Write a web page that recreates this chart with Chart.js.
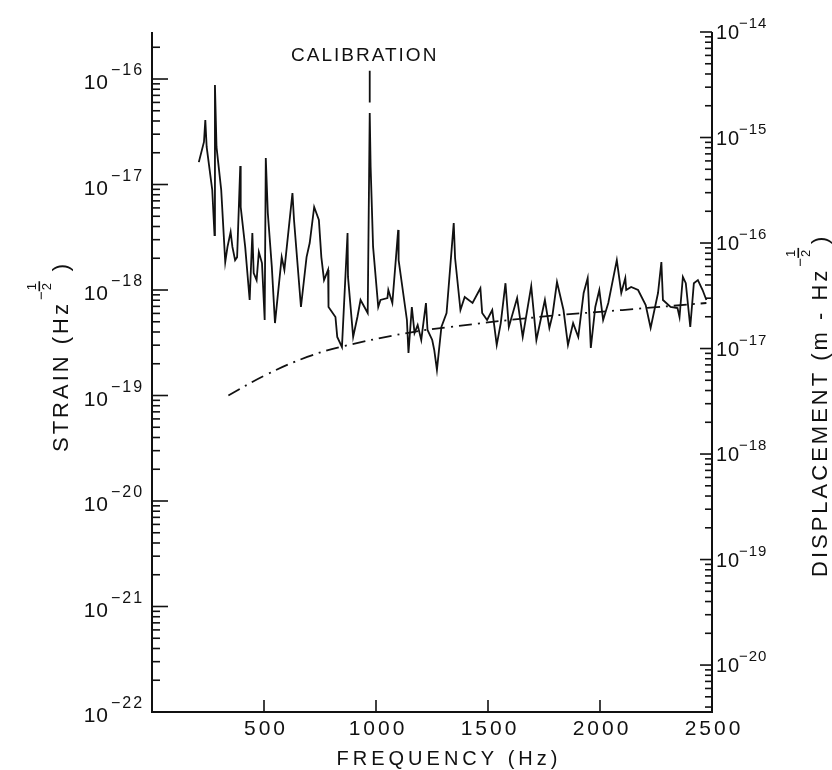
<!DOCTYPE html>
<html lang="en">
  <head>
    <meta charset="UTF-8" />
    <title>Strain noise spectrum</title>
    <script src="https://cdn.jsdelivr.net/npm/chart.js@4.4.1/dist/chart.umd.min.js"></script>
    <style>
      body { margin: 0; background: #fff; }
      canvas { display: block; }
    </style>
  </head>
  <body>
    <canvas id="myChart" width="832" height="770"></canvas>

    <script>
      // measured noise spectrum (Hz, strain per root Hz)
      const freqHz = [
        209, 232, 238, 244, 269, 279, 281, 288, 309, 327,
        337, 351, 359, 371, 380, 394, 396, 416, 436, 448,
        454, 467, 477, 491, 503, 508, 517, 535, 549, 579,
        591, 627, 634, 665, 690, 704, 724, 745, 756, 768,
        786, 788, 819, 827, 848, 873, 875, 898, 917, 931,
        963, 972, 976, 987, 1010, 1020, 1051, 1055, 1073, 1099,
        1101, 1138, 1145, 1160, 1172, 1186, 1202, 1223, 1230, 1251,
        1260, 1272, 1292, 1315, 1347, 1353, 1377, 1396, 1431, 1466,
        1474, 1496, 1519, 1539, 1557, 1578, 1593, 1630, 1655, 1693,
        1716, 1754, 1774, 1788, 1808, 1837, 1857, 1880, 1903, 1927,
        1945, 1959, 1979, 1997, 2014, 2037, 2075, 2095, 2113, 2117,
        2139, 2170, 2204, 2226, 2259, 2274, 2281, 2315, 2346, 2355,
        2370, 2383, 2403, 2419, 2437, 2458, 2475,
      ];
      const strain = [
        1.63e-17, 2.53e-17, 4.08e-17, 2.27e-17, 8.87e-18, 3.32e-18, 8.77e-17, 2.27e-17, 8.87e-18, 1.84e-18,
        2.56e-18, 3.55e-18, 2.56e-18, 1.92e-18, 2.05e-18, 1.5e-17, 6.12e-18, 2.56e-18, 8.04e-19, 3.47e-18,
        1.45e-18, 1.24e-18, 2.29e-18, 1.8e-18, 5.2e-19, 1.78e-17, 5.37e-18, 1.65e-18, 4.86e-19, 2.05e-18,
        1.55e-18, 8.3e-18, 4.61e-18, 6.9e-19, 2.05e-18, 2.79e-18, 6.12e-18, 4.61e-18, 2.05e-18, 1.24e-18,
        1.55e-18, 6.9e-19, 5.55e-19, 3.59e-19, 2.88e-19, 3.47e-18, 1.33e-18, 3.59e-19, 5.55e-19, 8.04e-19,
        6.05e-19, 4.77e-17, 1.47e-17, 2.56e-18, 6.9e-19, 8.04e-19, 8.39e-19, 1.0e-18, 7.53e-19, 3.71e-18,
        1.92e-18, 5.2e-19, 2.53e-19, 6.9e-19, 3.91e-19, 4.65e-19, 3.36e-19, 7.53e-19, 4.18e-19, 3.36e-19,
        2.7e-19, 1.75e-19, 4.46e-19, 6.05e-19, 4.31e-18, 2.01e-18, 6.46e-19, 8.59e-19, 7.53e-19, 1.04e-18,
        6.05e-19, 5.2e-19, 6.46e-19, 3.01e-19, 4.86e-19, 1.16e-18, 4.46e-19, 8.39e-19, 3.59e-19, 1.09e-18,
        3.36e-19, 8.04e-19, 4.37e-19, 5.8e-19, 1.19e-18, 6.46e-19, 3.01e-19, 4.86e-19, 3.59e-19, 9.37e-19,
        1.3e-18, 2.82e-19, 6.9e-19, 1.0e-18, 5.2e-19, 7.53e-19, 1.92e-18, 9.37e-19, 1.3e-18, 1.0e-18,
        1.07e-18, 1.0e-18, 7.21e-19, 4.37e-19, 9.37e-19, 1.84e-18, 8.04e-19, 6.9e-19, 6.75e-19, 5.55e-19,
        1.33e-18, 1.16e-18, 4.46e-19, 1.16e-18, 1.24e-18, 1.0e-18, 8.04e-19,
      ];

      // expected (dash-dot) curve
      const theoryHz = [341, 506, 693, 840, 1137, 1327, 1727, 2100, 2475];
      const theoryStrain = [1.0e-19, 1.56e-19, 2.32e-19, 2.88e-19, 3.91e-19, 4.46e-19, 5.55e-19, 6.46e-19, 7.53e-19];

      // leader line up to the CALIBRATION label
      const calibHz = [972, 972];
      const calibStrain = [1.2e-16, 6.0e-17];

      const xTicks = [500, 1000, 1500, 2000, 2500];
      const strainDecades = [-22, -21, -20, -19, -18, -17, -16];
      const dispDecades = [-20, -19, -18, -17, -16, -15, -14];

      const FONT = '"Liberation Sans", Arial, sans-serif';

      function text(ctx, str, x, y, size, align, spacing) {
        ctx.font = size + "px " + FONT;
        ctx.letterSpacing = (spacing || 0) + "px";
        ctx.textAlign = align;
        ctx.textBaseline = "alphabetic";
        ctx.fillText(str, x, y);
      }

      // minor + major ticks of a log axis, drawn into the plot
      function logTicks(ctx, scale, x0, dir, majorLen, minorLen) {
        const lo = Math.floor(Math.log10(scale.min));
        const hi = Math.ceil(Math.log10(scale.max));
        for (let e = lo; e <= hi; e++) {
          for (let m = 1; m <= 9; m++) {
            const v = m * Math.pow(10, e);
            if (v < scale.min * 0.999 || v > scale.max * 1.001) continue;
            const py = scale.getPixelForValue(v);
            const len = m === 1 ? majorLen : minorLen;
            ctx.beginPath();
            ctx.moveTo(x0, py);
            ctx.lineTo(x0 + dir * len, py);
            ctx.stroke();
          }
        }
      }

      // vertical title with a -1/2 exponent written as a small stacked fraction
      function rotTitle(ctx, bx, by, head, tail, spacing) {
        ctx.save();
        ctx.translate(bx, by);
        ctx.rotate(-Math.PI / 2);
        text(ctx, head, 0, 0, 22, "left", spacing);
        let x = ctx.measureText(head).width + 1;
        text(ctx, "\u2212", x, -22, 15, "left", 0);
        x += ctx.measureText("\u2212").width + 1;
        text(ctx, "1", x, -32, 13, "left", 0);
        ctx.fillRect(x - 1, -29.5, 10, 1.6);
        text(ctx, "2", x, -17, 13, "left", 0);
        x += 13;
        text(ctx, tail, x, 0, 22, "left", 0);
        ctx.restore();
      }

      const framePlugin = {
        id: "frame",
        beforeDraw(chart) {
          const ctx = chart.ctx;
          ctx.save();
          ctx.fillStyle = "#fff";
          ctx.fillRect(0, 0, chart.width, chart.height);
          ctx.restore();
        },
        afterDraw(chart) {
          const ctx = chart.ctx;
          const { left, right, top, bottom } = chart.chartArea;
          const xs = chart.scales.x;
          const ys = chart.scales.y;
          const y2 = chart.scales.y2;
          ctx.save();
          ctx.strokeStyle = "#111";
          ctx.fillStyle = "#111";

          // axes lines
          ctx.lineWidth = 2;
          ctx.beginPath();
          ctx.moveTo(left, top);
          ctx.lineTo(left, bottom);
          ctx.lineTo(right, bottom);
          ctx.lineTo(right, top);
          ctx.stroke();

          ctx.lineWidth = 1.6;
          logTicks(ctx, ys, left, 1, 16, 8);
          logTicks(ctx, y2, right, -1, 12, 7);
          xTicks.forEach((v) => {
            const px = xs.getPixelForValue(v);
            ctx.beginPath();
            ctx.moveTo(px, bottom);
            ctx.lineTo(px, bottom - 12);
            ctx.stroke();
          });

          // tick labels
          xTicks.forEach((v) => {
            text(ctx, String(v), xs.getPixelForValue(v) + 2, bottom + 23, 21, "center", 3);
          });
          strainDecades.forEach((e) => {
            const py = ys.getPixelForValue(Math.pow(10, e));
            text(ctx, "10", left - 43, py + 10, 21, "right", 1);
            text(ctx, "\u2212" + String(-e), left - 41, py - 4, 16, "left", 2);
          });
          dispDecades.forEach((e) => {
            const py = y2.getPixelForValue(Math.pow(10, e));
            text(ctx, "10", right + 4, py + 7, 20, "left", 1);
            text(ctx, "\u2212" + String(-e), right + 27, py - 4, 15, "left", 1);
          });

          // titles
          text(ctx, "CALIBRATION", xs.getPixelForValue(calibHz[0]) - 5, 61, 19, "center", 2);
          text(ctx, "FREQUENCY (Hz)", 449, 765, 20, "center", 4);
          rotTitle(ctx, 68, 452, "STRAIN (Hz", " )", 3);
          rotTitle(ctx, 827, 577, "DISPLACEMENT (m - Hz", ")", 3);
          ctx.restore();
        },
      };

      const ctx = document.getElementById("myChart");
      const zeroWidth = (s) => { s.width = 0; };

      new Chart(ctx, {
        type: "line",
        data: {
          datasets: [
            {
              label: "Strain",
              data: freqHz.map((f, i) => ({ x: f, y: strain[i] })),
              borderColor: "#111",
              borderWidth: 1.8,
              pointRadius: 0,
              tension: 0,
              yAxisID: "y",
            },
            {
              label: "Expected",
              data: theoryHz.map((f, i) => ({ x: f, y: theoryStrain[i] })),
              borderColor: "#111",
              borderWidth: 1.8,
              borderDash: [13, 6, 2, 6],
              pointRadius: 0,
              tension: 0.4,
              yAxisID: "y",
            },
            {
              label: "Calibration",
              data: calibHz.map((f, i) => ({ x: f, y: calibStrain[i] })),
              borderColor: "#111",
              borderWidth: 1.8,
              pointRadius: 0,
              yAxisID: "y",
            },
          ],
        },
        options: {
          responsive: false,
          animation: false,
          layout: { padding: { left: 152, right: 120, top: 32, bottom: 58 } },
          plugins: { legend: { display: false }, tooltip: { enabled: false } },
          scales: {
            x: {
              type: "linear",
              min: 0,
              max: 2500,
              grid: { display: false },
              border: { display: false },
              ticks: { display: false },
              afterFit: (s) => { s.height = 0; },
            },
            y: {
              type: "logarithmic",
              position: "left",
              min: 1e-22,
              max: 2.79e-16,
              grid: { display: false },
              border: { display: false },
              ticks: { display: false },
              afterFit: zeroWidth,
            },
            y2: {
              type: "logarithmic",
              position: "right",
              min: 3.59e-21,
              max: 1e-14,
              grid: { display: false },
              border: { display: false },
              ticks: { display: false },
              afterFit: zeroWidth,
            },
          },
        },
        plugins: [framePlugin],
      });
    </script>
  </body>
</html>
